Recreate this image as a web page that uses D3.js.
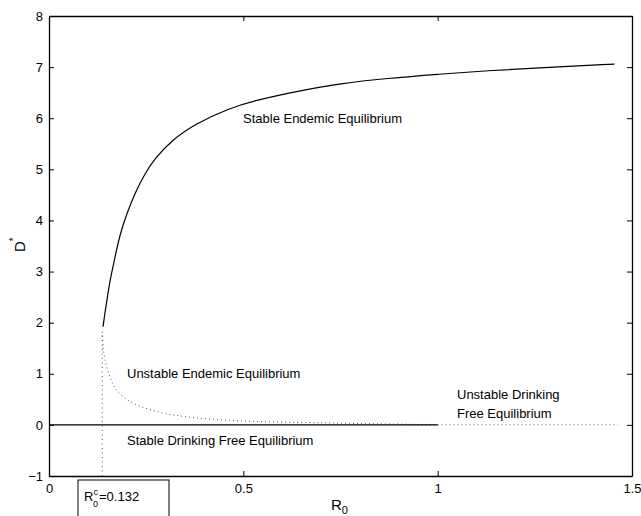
<!DOCTYPE html>
<html>
<head>
<meta charset="utf-8">
<script src="https://cdn.jsdelivr.net/npm/d3@7"></script>
<style>
  body { margin: 0; background: #fff; }
  text { font-family: "Liberation Sans", Arial, Helvetica, sans-serif; }
</style>
</head>
<body>
<svg id="chart"></svg>
<script>
// stable endemic branch (solid)
var stableR = [0.139, 0.1425, 0.149, 0.157, 0.170, 0.183, 0.200, 0.222, 0.247, 0.273, 0.316, 0.376, 0.462, 0.531, 0.640, 0.750, 0.870, 1.000, 1.130, 1.265, 1.455];
var stableD = [1.92, 2.12, 2.44, 2.83, 3.29, 3.74, 4.13, 4.55, 4.92, 5.22, 5.57, 5.89, 6.19, 6.35, 6.53, 6.68, 6.78, 6.86, 6.93, 6.99, 7.06];
// unstable endemic branch (dotted)
var unstableR = [0.137, 0.139, 0.144, 0.157, 0.174, 0.209, 0.278, 0.363, 0.490, 0.706, 0.850, 1.000];
var unstableD = [1.82, 1.55, 1.27, 0.94, 0.68, 0.455, 0.26, 0.15, 0.078, 0.04, 0.02, 0.005];
// drinking free equilibrium D* = 0
var dfeStableR = [0, 1];
var dfeUnstableR = [1, 1.464];
var critR = 0.137;
var critTop = 1.82;
var xTicks = [0, 0.5, 1, 1.5];
var yTicks = [-1, 0, 1, 2, 3, 4, 5, 6, 7, 8];

var W = 641, H = 516;
var margin = {top: 16, right: 9, bottom: 40, left: 49};

var svg = d3.select("#chart").attr("width", W).attr("height", H);

var x = d3.scaleLinear().domain([0, 1.5]).range([margin.left, W - margin.right]);
var y = d3.scaleLinear().domain([-1, 8]).range([H - margin.bottom, margin.top]);

var fmt = d3.format("");

// axes, matlab style box with inward ticks
svg.append("g")
  .attr("transform", "translate(0," + y(-1) + ")")
  .call(d3.axisBottom(x).tickValues(xTicks).tickFormat(fmt).tickSizeInner(-5).tickSizeOuter(0).tickPadding(8));
svg.append("g")
  .attr("transform", "translate(0," + y(8) + ")")
  .call(d3.axisTop(x).tickValues(xTicks).tickFormat("").tickSizeInner(-5).tickSizeOuter(0));
svg.append("g")
  .attr("transform", "translate(" + x(0) + ",0)")
  .call(d3.axisLeft(y).tickValues(yTicks).tickFormat(fmt).tickSizeInner(-5).tickSizeOuter(0).tickPadding(6));
svg.append("g")
  .attr("transform", "translate(" + x(1.5) + ",0)")
  .call(d3.axisRight(y).tickValues(yTicks).tickFormat("").tickSizeInner(-5).tickSizeOuter(0));

svg.selectAll(".domain").attr("stroke", "#000").attr("stroke-width", 1.3);
svg.selectAll(".tick line").attr("stroke", "#000");
svg.selectAll(".tick text").style("font-size", "13px").attr("fill", "#000");

var line = d3.line().x(d => x(d[0])).y(d => y(d[1]));

var stable = stableR.map((r, i) => [r, stableD[i]]);
var unstable = unstableR.map((r, i) => [r, unstableD[i]]);

svg.append("path").datum(stable)
  .attr("d", line.curve(d3.curveBasis)).attr("fill", "none")
  .attr("stroke", "#000").attr("stroke-width", 1.2);

svg.append("path").datum(unstable)
  .attr("d", line.curve(d3.curveCatmullRom)).attr("fill", "none")
  .attr("stroke", "#444").attr("stroke-width", 0.9)
  .attr("stroke-dasharray", "1,3");

svg.append("line")
  .attr("x1", x(dfeStableR[0])).attr("x2", x(dfeStableR[1]))
  .attr("y1", y(0)).attr("y2", y(0))
  .attr("stroke", "#000").attr("stroke-width", 1.1);

svg.append("line")
  .attr("x1", x(dfeUnstableR[0])).attr("x2", x(dfeUnstableR[1]))
  .attr("y1", y(0)).attr("y2", y(0))
  .attr("stroke", "#444").attr("stroke-width", 0.9)
  .attr("stroke-dasharray", "1,3");

svg.append("line")
  .attr("x1", x(critR)).attr("x2", x(critR))
  .attr("y1", y(-1)).attr("y2", y(critTop))
  .attr("stroke", "#444").attr("stroke-width", 0.9)
  .attr("stroke-dasharray", "1,3.5");

// annotations
var notes = [
  {t: "Stable Endemic Equilibrium", x: 243, y: 123},
  {t: "Unstable Endemic Equilibrium", x: 127, y: 378},
  {t: "Unstable Drinking", x: 457, y: 399},
  {t: "Free Equilibrium", x: 457, y: 418},
  {t: "Stable Drinking Free Equilibrium", x: 127, y: 445}
];
svg.selectAll(".note").data(notes).enter().append("text")
  .attr("class", "note")
  .attr("x", d => d.x).attr("y", d => d.y)
  .style("font-size", "13px").attr("fill", "#000")
  .text(d => d.t);

// axis labels
var xl = svg.append("text").attr("x", 331).attr("y", 510).style("font-size", "15px");
xl.append("tspan").text("R");
xl.append("tspan").attr("dy", 4).style("font-size", "11px").text("0");

var yl = svg.append("text").attr("transform", "translate(25,252) rotate(-90)").style("font-size", "15px");
yl.append("tspan").text("D");
yl.append("tspan").attr("dy", -8).style("font-size", "10px").text("*");

// critical value box
svg.append("rect")
  .attr("x", 78).attr("y", 480).attr("width", 91).attr("height", 50)
  .attr("fill", "none").attr("stroke", "#000").attr("stroke-width", 1);
var bt = svg.append("text").attr("x", 84).attr("y", 501).style("font-size", "13px");
bt.append("tspan").text("R");
bt.append("tspan").attr("dy", -6).style("font-size", "9px").text("c");
bt.append("tspan").attr("x", 93).attr("dy", 12).style("font-size", "9px").text("0");
bt.append("tspan").attr("x", 99).attr("dy", -6).text("=0.132");
</script>
</body>
</html>
